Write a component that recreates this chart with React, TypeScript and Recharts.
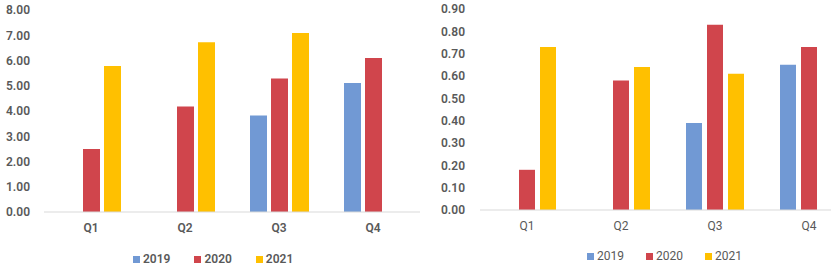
import { BarChart, Bar, XAxis, YAxis } from 'recharts'

const quarters = ['Q1', 'Q2', 'Q3', 'Q4']
const years = ['2019', '2020', '2021']
const colours = ['#7199d4', '#d0454c', '#ffc000']

// left panel
const leftY2019 = [null, null, 3.82, 5.11]
const leftY2020 = [2.5, 4.18, 5.29, 6.1]
const leftY2021 = [5.78, 6.72, 7.09, null]
const leftTicks = [0, 1, 2, 3, 4, 5, 6, 7, 8]

// right panel
const rightY2019 = [null, null, 0.39, 0.65]
const rightY2020 = [0.18, 0.58, 0.83, 0.73]
const rightY2021 = [0.73, 0.64, 0.61, null]
const rightTicks = [0, 0.1, 0.2, 0.3, 0.4, 0.5, 0.6, 0.7, 0.8, 0.9]

const FONT = 'Roboto, "Open Sans", sans-serif'
const TEXT = '#595959'

function buildRows(a: (number | null)[], b: (number | null)[], c: (number | null)[]) {
  return quarters.map((q, i) => ({ q, [years[0]]: a[i], [years[1]]: b[i], [years[2]]: c[i] }))
}

function LegendRow({ left, top, gap, weight }: { left: number; top: number; gap: number; weight: number }) {
  return (
    <div style={{ position: 'absolute', left, top, display: 'flex', alignItems: 'center', fontFamily: FONT, fontSize: 12, fontWeight: weight, color: TEXT, lineHeight: '14px' }}>
      {years.map((y, i) => (
        <span key={y} style={{ display: 'flex', alignItems: 'center', marginRight: i < years.length - 1 ? gap : 0 }}>
          <span style={{ width: 7, height: 7, background: colours[i], display: 'inline-block', marginRight: 3 }} />
          {y}
        </span>
      ))}
    </div>
  )
}

export default function App() {
  const leftData = buildRows(leftY2019, leftY2020, leftY2021)
  const rightData = buildRows(rightY2019, rightY2020, rightY2021)

  return (
    <div style={{ position: 'absolute', left: 0, top: 0, width: 831, height: 271, overflow: 'hidden', background: '#fff' }}>
      <div style={{ position: 'absolute', left: 0, top: 0 }}>
        <BarChart width={420} height={271} data={leftData} margin={{ top: 10, right: 0, bottom: 0, left: 0 }} barSize={17} barGap={4}>
          <XAxis dataKey="q" axisLine={{ stroke: '#d9d9d9' }} tickLine={false} tickSize={0} tickMargin={11} height={59}
            tick={{ fontSize: 12, fontFamily: FONT, fontWeight: 600, fill: TEXT }} />
          <YAxis domain={[0, 8]} ticks={leftTicks} interval={0} width={44} axisLine={false} tickLine={false} tickSize={0} tickMargin={14}
            tickFormatter={(v: number) => v.toFixed(2)} tick={{ fontSize: 12, fontFamily: FONT, fontWeight: 600, fill: TEXT }} />
          {years.map((y, i) => (
            <Bar key={y} dataKey={y} fill={colours[i]} isAnimationActive={false} />
          ))}
        </BarChart>
      </div>
      <div style={{ position: 'absolute', left: 420, top: 0 }}>
        <BarChart width={436} height={271} data={rightData} margin={{ top: 9, right: 0, bottom: 0, left: 0 }} barSize={16} barGap={5}>
          <XAxis dataKey="q" axisLine={{ stroke: '#d9d9d9' }} tickLine={false} tickSize={0} tickMargin={11} height={61}
            tick={{ fontSize: 12, fontFamily: FONT, fontWeight: 400, fill: TEXT }} />
          <YAxis domain={[0, 0.9]} ticks={rightTicks} interval={0} width={60} axisLine={false} tickLine={false} tickSize={0} tickMargin={15}
            tickFormatter={(v: number) => v.toFixed(2)} tick={{ fontSize: 12, fontFamily: FONT, fontWeight: 600, fill: TEXT }} />
          {years.map((y, i) => (
            <Bar key={y} dataKey={y} fill={colours[i]} isAnimationActive={false} />
          ))}
        </BarChart>
      </div>
      <LegendRow left={133} top={252} gap={24} weight={600} />
      <LegendRow left={587} top={249} gap={22} weight={400} />
    </div>
  )
}
